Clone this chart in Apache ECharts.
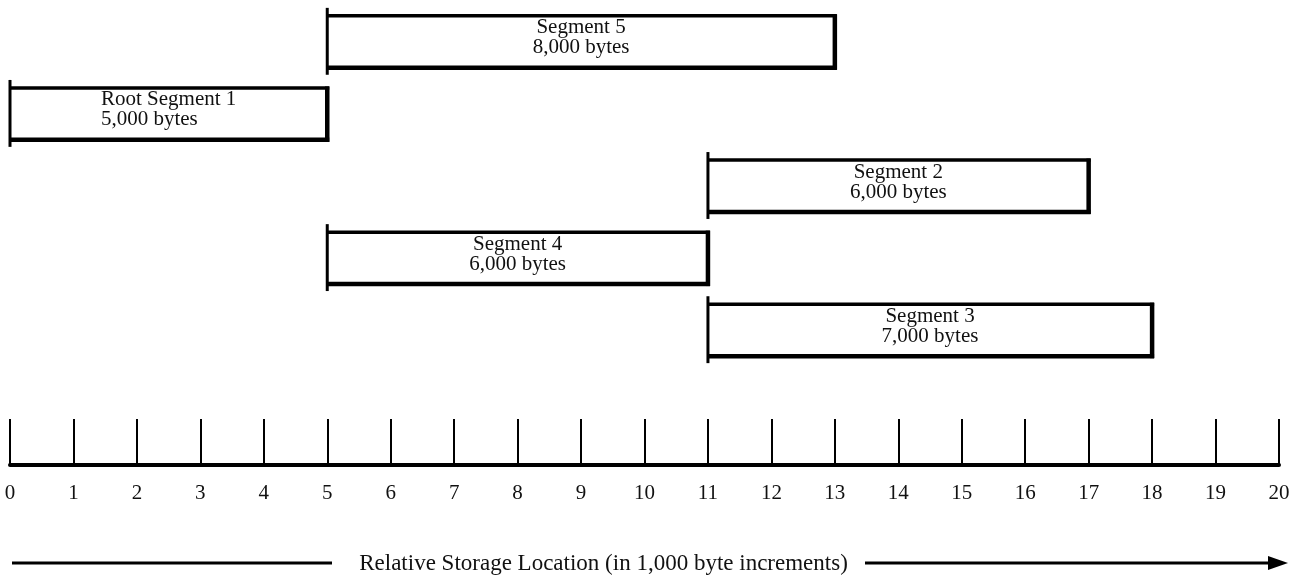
<!DOCTYPE html>
<html>
<head>
<meta charset="utf-8">
<script src="https://cdn.jsdelivr.net/npm/echarts@6/dist/echarts.min.js"></script>
<style>
html,body{margin:0;padding:0;background:#fff;}
#chart{width:1295px;height:576px;}
</style>
</head>
<body>
<div id="chart"></div>
<script>
// ---- data ----
const segmentNames = ['Segment 5', 'Root Segment 1', 'Segment 2', 'Segment 4', 'Segment 3'];
const segmentStart = [5, 0, 11, 5, 11];          // start location, in 1,000 bytes
const segmentSize  = [8, 5, 6, 6, 7];            // size, in 1,000 bytes
const segmentBytes = ['8,000 bytes', '5,000 bytes', '6,000 bytes', '6,000 bytes', '7,000 bytes'];
const segmentRow   = [0, 1, 2, 3, 4];
const tickLabels   = ['0','1','2','3','4','5','6','7','8','9','10','11','12','13','14','15','16','17','18','19','20'];
const axisTitle    = 'Relative Storage Location (in 1,000 byte increments)';

const FONT = '"Liberation Serif", "Times New Roman", serif';
const INK = '#000';
const BOX_FONT = 21;

const chart = echarts.init(document.getElementById('chart'), null, {renderer: 'canvas'});

const seriesData = segmentNames.map((n, i) => ({
  value: [segmentStart[i], segmentStart[i] + segmentSize[i], segmentRow[i]],
  name: n,
  bytes: segmentBytes[i],
  leftAlign: n.indexOf('Root') === 0
}));

const measureCtx = document.createElement('canvas').getContext('2d');
measureCtx.font = BOX_FONT + 'px ' + FONT;

function renderItem(params, api) {
  const item = seriesData[params.dataIndex];
  const p0 = api.coord([api.value(0), api.value(2)]);
  const p1 = api.coord([api.value(1), api.value(2)]);
  const x0 = p0[0], x1 = p1[0], yc = p0[1];
  const h = api.size([0, 0.72])[1];
  const yTop = yc - h / 2, yBot = yc + h / 2;
  const cx = (x0 + x1) / 2;
  let tx = cx, align = 'center';
  if (item.leftAlign) {
    const w = Math.max(measureCtx.measureText(item.name).width, measureCtx.measureText(item.bytes).width);
    tx = cx - w / 2; align = 'left';
  }
  const st = (w) => ({stroke: INK, lineWidth: w, lineCap: 'butt'});
  return {
    type: 'group',
    children: [
      {type: 'rect', shape: {x: x0, y: yTop, width: x1 - x0, height: h}, style: {fill: '#fff'}},
      {type: 'line', shape: {x1: x0, y1: yTop, x2: x1 + 2, y2: yTop}, style: st(3.5)},
      {type: 'line', shape: {x1: x0, y1: yBot, x2: x1 + 2, y2: yBot}, style: st(4.5)},
      {type: 'line', shape: {x1: x1, y1: yTop - 1.5, x2: x1, y2: yBot + 2}, style: st(4.5)},
      {type: 'line', shape: {x1: x0, y1: yTop - 8, x2: x0, y2: yBot + 7}, style: st(3)},
      {type: 'text', style: {
        x: tx, y: yc - 4,
        text: item.name + '\n' + item.bytes,
        font: BOX_FONT + 'px ' + FONT,
        fill: '#111',
        align: align,
        verticalAlign: 'middle',
        lineHeight: 20
      }}
    ]
  };
}

const option = {
  backgroundColor: '#fff',
  animation: false,
  grid: {left: 10, right: 16, top: 0, bottom: 111, containLabel: false, outerBoundsMode: 'none'},
  xAxis: {
    type: 'value',
    position: 'bottom',
    min: 0, max: 20, interval: 1,
    axisLine: {show: true, onZero: false, lineStyle: {color: INK, width: 4}},
    axisTick: {show: true, inside: true, length: 46, lineStyle: {color: INK, width: 2}},
    axisLabel: {
      show: true, margin: 18, fontSize: 21, fontFamily: FONT, color: '#111',
      formatter: (v) => tickLabels[Math.round(v)]
    },
    splitLine: {show: false},
    name: axisTitle,
    nameLocation: 'middle',
    nameGap: 87,
    nameTextStyle: {fontSize: 23, fontFamily: FONT, color: '#111', padding: [0, 82, 0, 0]}
  },
  yAxis: {
    type: 'value', inverse: true, min: -0.58, max: 5.87, show: false
  },
  series: [{
    type: 'custom',
    renderItem: renderItem,
    data: seriesData.map(d => d.value),
    encode: {x: [0, 1], y: 2},
    clip: false
  }],
  graphic: [
    {type: 'line', shape: {x1: 12, y1: 563, x2: 332, y2: 563}, style: {stroke: INK, lineWidth: 3}},
    {type: 'line', shape: {x1: 865, y1: 563, x2: 1272, y2: 563}, style: {stroke: INK, lineWidth: 3}},
    {type: 'polygon', shape: {points: [[1268, 556], [1288, 563], [1268, 570]]}, style: {fill: INK}}
  ]
};
chart.setOption(option);
</script>
</body>
</html>
